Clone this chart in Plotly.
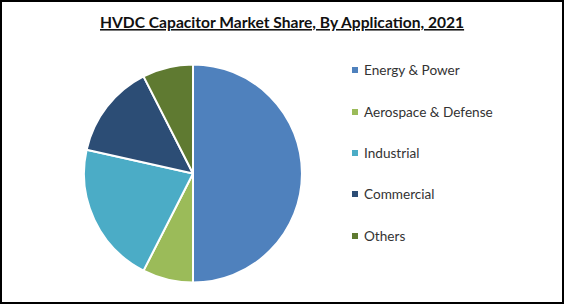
import plotly.graph_objects as go

labels = ["Energy & Power", "Aerospace & Defense", "Industrial", "Commercial", "Others"]
values = [50, 7.5, 21, 14, 7.5]
colors = ["#4F81BD", "#9BBB59", "#4BACC6", "#2C4D75", "#5F7A31"]
title = "<b><u>HVDC Capacitor Market Share, By Application, 2021</u></b>"

W, H = 565, 304

fig = go.Figure(go.Pie(
    labels=labels, values=values, sort=False, direction="clockwise", rotation=0,
    marker=dict(colors=colors, line=dict(color="white", width=2)),
    textinfo="none", hoverinfo="label+percent", showlegend=False,
    domain=dict(x=[84 / W, 302 / W], y=[(H - 283) / H, (H - 64) / H]),
))

shapes = [dict(type="rect", xref="paper", yref="paper", x0=1 / W, x1=(W - 2) / W,
               y0=1 / H, y1=(H - 1) / H, line=dict(color="black", width=2))]
annotations = [dict(text=title, xref="paper", yref="paper", x=282 / W, y=(H - 22) / H,
                    showarrow=False, xanchor="center", yanchor="middle",
                    font=dict(family="Lato, Carlito, sans-serif", size=15.6, color="#111"))]

y_positions = [70, 112, 153, 194, 236]
for lab, col, yp in zip(labels, colors, y_positions):
    shapes.append(dict(type="rect", xref="paper", yref="paper",
                       x0=352 / W, x1=358 / W, y0=(H - yp - 3) / H, y1=(H - yp + 3) / H,
                       fillcolor=col, line=dict(width=0)))
    annotations.append(dict(text=lab, xref="paper", yref="paper", x=362 / W, y=(H - yp) / H,
                            showarrow=False, xanchor="left", yanchor="middle",
                            font=dict(family="Lato, Carlito, sans-serif", size=13.6, color="#333")))

fig.update_layout(width=W, height=H, margin=dict(l=0, r=0, t=0, b=0),
                  paper_bgcolor="white", plot_bgcolor="white",
                  shapes=shapes, annotations=annotations)

fig.write_html("out.html")
